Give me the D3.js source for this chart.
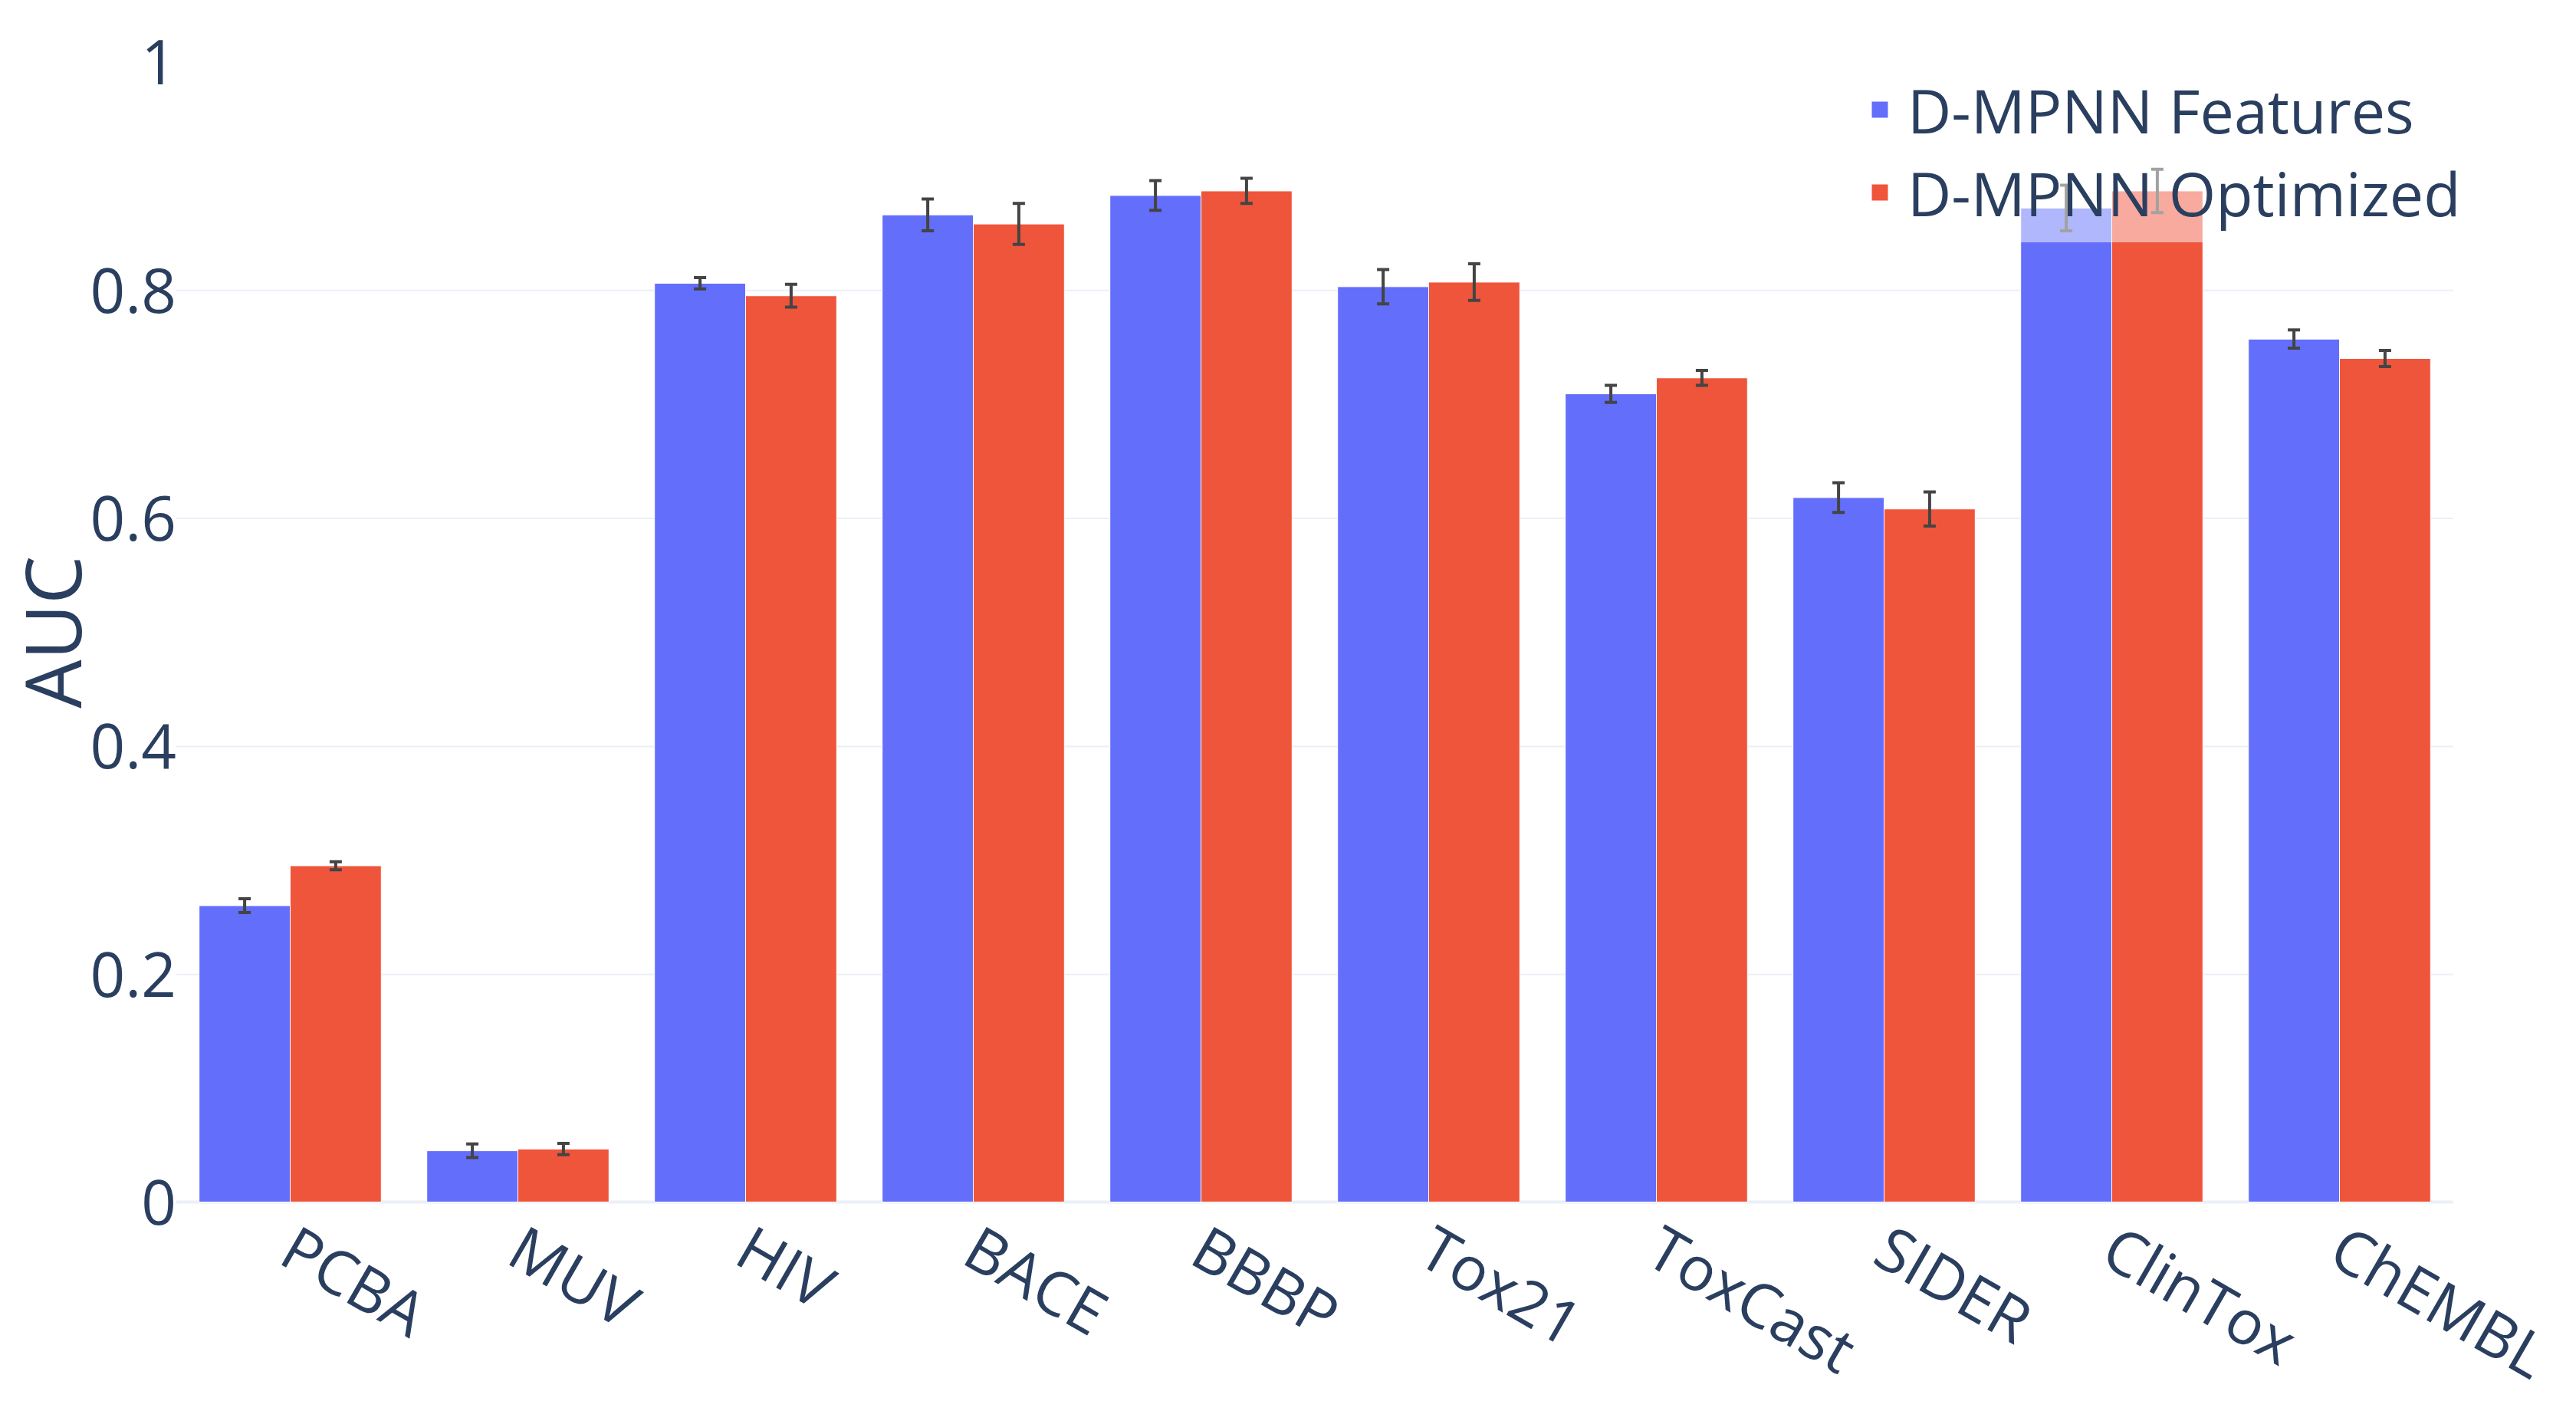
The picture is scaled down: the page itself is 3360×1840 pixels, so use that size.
<!DOCTYPE html>
<html>
<head>
<meta charset="utf-8">
<script src="https://cdn.jsdelivr.net/npm/d3@7"></script>
<style>
  body { margin: 0; background: #fff; }
  svg { display: block; }
</style>
</head>
<body>
<div id="chart"></div>
<script>
var categories = ['PCBA', 'MUV', 'HIV', 'BACE', 'BBBP', 'Tox21', 'ToxCast', 'SIDER', 'ClinTox', 'ChEMBL'];
var seriesNames = ['D-MPNN Features', 'D-MPNN Optimized'];
var featuresAUC = [0.260, 0.045, 0.806, 0.866, 0.883, 0.803, 0.709, 0.618, 0.872, 0.757];
var featuresErr = [0.006, 0.006, 0.005, 0.014, 0.013, 0.015, 0.0075, 0.013, 0.020, 0.008];
var optimizedAUC = [0.295, 0.0465, 0.795, 0.858, 0.887, 0.807, 0.723, 0.608, 0.887, 0.740];
var optimizedErr = [0.0035, 0.005, 0.010, 0.018, 0.011, 0.016, 0.0065, 0.015, 0.019, 0.007];
var yTicks = [0, 0.2, 0.4, 0.6, 0.8, 1];

var W = 3360, H = 1840;
var margin = { top: 81, right: 160, bottom: 272.5, left: 230 };
var width = W - margin.left - margin.right,
    height = H - margin.top - margin.bottom;

var colors = ['#636efa', '#EF553B'];
var textColor = '#2a3f5f';
var font = '"Open Sans", verdana, arial, sans-serif';

var svg = d3.select('#chart').append('svg')
    .attr('width', W)
    .attr('height', H)
    .style('background', '#fff')
    .style('font-family', font);

var g = svg.append('g')
    .attr('transform', 'translate(' + margin.left + ',' + margin.top + ')');

var x = d3.scaleBand()
    .domain(categories)
    .range([0, width])
    .paddingInner(0.2)
    .paddingOuter(0.1);

var xSeries = d3.scaleBand()
    .domain(d3.range(seriesNames.length))
    .range([0, x.bandwidth()]);

var y = d3.scaleLinear()
    .domain([0, 1])
    .range([height, 0]);

// grid lines
var grid = g.append('g')
    .call(d3.axisLeft(y).tickValues(yTicks.filter(function (d) { return d > 0 && d < 1; }))
        .tickSize(-width).tickFormat(''));
grid.select('.domain').remove();
grid.selectAll('line').attr('stroke', '#EBF0F8').attr('stroke-width', 2);

// zero line
g.append('line')
    .attr('x1', 0).attr('x2', width)
    .attr('y1', y(0)).attr('y2', y(0))
    .attr('stroke', '#EBF0F8')
    .attr('stroke-width', 4);

var rows = categories.map(function (c, i) {
    return [
        { cat: c, s: 0, v: featuresAUC[i], e: featuresErr[i] },
        { cat: c, s: 1, v: optimizedAUC[i], e: optimizedErr[i] }
    ];
});

var groups = g.selectAll('.grp').data(rows)
    .enter().append('g')
    .attr('class', 'grp')
    .attr('transform', function (d) { return 'translate(' + x(d[0].cat) + ',0)'; });

groups.selectAll('rect').data(function (d) { return d; })
    .enter().append('rect')
    .attr('x', function (d) { return xSeries(d.s); })
    .attr('width', xSeries.bandwidth())
    .attr('y', function (d) { return y(d.v); })
    .attr('height', function (d) { return y(0) - y(d.v); })
    .attr('fill', function (d) { return colors[d.s]; })
    .attr('stroke', '#fff')
    .attr('stroke-width', 1);

var capW = 8;
groups.selectAll('path.err').data(function (d) { return d; })
    .enter().append('path')
    .attr('class', 'err')
    .attr('d', function (d) {
        var cx = xSeries(d.s) + xSeries.bandwidth() / 2,
            y1 = y(d.v + d.e), y2 = y(d.v - d.e);
        return 'M' + (cx - capW) + ',' + y1 + 'h' + (2 * capW) +
            'M' + cx + ',' + y1 + 'V' + y2 +
            'M' + (cx - capW) + ',' + y2 + 'h' + (2 * capW);
    })
    .attr('fill', 'none')
    .attr('stroke', '#444')
    .attr('stroke-width', 4);

// y axis labels
var yAxis = g.append('g')
    .call(d3.axisLeft(y).tickValues(yTicks).tickSize(0).tickPadding(0)
        .tickFormat(function (d) { return d === 0 || d === 1 ? String(d) : d3.format('.1f')(d); }));
yAxis.select('.domain').remove();
yAxis.selectAll('text')
    .attr('x', 0)
    .attr('dy', '0.36em')
    .style('font-family', font)
    .style('font-size', '80px')
    .attr('fill', textColor);

// x axis labels
var xAxis = g.append('g')
    .attr('transform', 'translate(0,' + height + ')')
    .call(d3.axisBottom(x).tickSize(0));
xAxis.select('.domain').remove();
xAxis.selectAll('text')
    .attr('x', 0).attr('y', 0).attr('dy', 0)
    .attr('text-anchor', 'start')
    .attr('transform', 'translate(-18,78) rotate(30)')
    .style('font-family', font)
    .style('font-size', '80px')
    .attr('fill', textColor);

// y title
svg.append('text')
    .attr('transform', 'translate(106,' + (margin.top + height / 2) + ') rotate(-90)')
    .attr('text-anchor', 'middle')
    .style('font-size', '100px')
    .attr('fill', textColor)
    .text('AUC');

// legend
var legend = svg.append('g');
legend.append('rect')
    .attr('x', 2425).attr('y', 80)
    .attr('width', 800).attr('height', 236)
    .attr('fill', 'rgba(255,255,255,0.5)');

var items = legend.selectAll('.item').data(seriesNames)
    .enter().append('g')
    .attr('class', 'item')
    .attr('transform', function (d, i) { return 'translate(2441,' + (143 + i * 108) + ')'; });

items.append('rect')
    .attr('x', 0).attr('y', -11)
    .attr('width', 22).attr('height', 22)
    .attr('fill', function (d, i) { return colors[i]; })
    .attr('stroke', '#fff')
    .attr('stroke-width', 1);

items.append('text')
    .attr('x', 47)
    .attr('y', 31)
    .style('font-size', '79px')
    .attr('fill', textColor)
    .text(function (d) { return d; });
</script>
</body>
</html>
